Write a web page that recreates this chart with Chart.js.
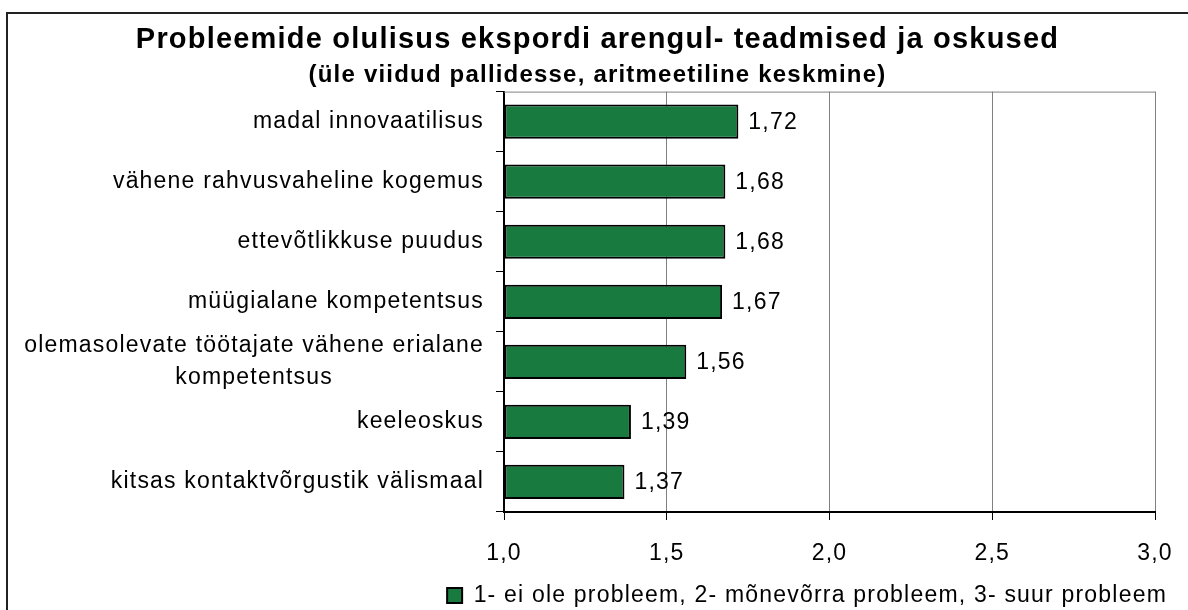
<!DOCTYPE html>
<html>
<head>
<meta charset="utf-8">
<script src="https://cdn.jsdelivr.net/npm/chart.js@4.4.1/dist/chart.umd.min.js"></script>
<style>
    html, body { margin: 0; padding: 0; background: #fff; overflow: hidden; }
    #frame { position: absolute; left: 6px; top: 12px; width: 1300px; height: 700px; border: 2px solid #222; }
    #wrap { position: absolute; left: 0; top: 0; width: 1188px; height: 610px; }
</style>
</head>
<body>
<div id="frame"></div>
<div id="wrap"><canvas id="chart"></canvas></div>
<script>
const titleText = 'Probleemide olulisus ekspordi arengul- teadmised ja oskused';
const subtitleText = '(üle viidud pallidesse, aritmeetiline keskmine)';
const seriesLabel = '1- ei ole probleem, 2- mõnevõrra probleem, 3- suur probleem';

const categories = [
    'madal innovaatilisus',
    'vähene rahvusvaheline kogemus',
    'ettevõtlikkuse puudus',
    'müügialane kompetentsus',
    ['olemasolevate töötajate vähene erialane', 'kompetentsus'],
    'keeleoskus',
    'kitsas kontaktvõrgustik välismaal'
];
const values = [1.72, 1.68, 1.68, 1.67, 1.56, 1.39, 1.37];
const xMin = 1.0;
const xMax = 3.0;
const xStep = 0.5;

const FONT = "'Liberation Sans', Arial, sans-serif";
const SPACING = '1.2px';
const PAD_L = 28;
const PAD_R = 21;
const fmt = (v, d) => v.toFixed(d).replace('.', ',');

// old Excel text is a bit wider than plain Arial
const spacingPlugin = {
    id: 'spacing',
    beforeLayout(chart) { chart.ctx.letterSpacing = SPACING; },
    beforeDraw(chart) { chart.ctx.letterSpacing = SPACING; }
};

// category labels + value labels + top frame of the plot
const decorPlugin = {
    id: 'decor',
    afterDraw(chart) {
        const ctx = chart.ctx;
        const area = chart.chartArea;
        const yScale = chart.scales.y;
        const meta = chart.getDatasetMeta(0);

        ctx.save();
        ctx.strokeStyle = '#808080';
        ctx.lineWidth = 1;
        ctx.beginPath();
        ctx.moveTo(area.left, area.top + 0.5);
        ctx.lineTo(area.right + 0.5, area.top + 0.5);
        ctx.stroke();

        ctx.fillStyle = '#000';
        ctx.font = '23px ' + FONT;
        ctx.textBaseline = 'middle';
        ctx.textAlign = 'center';
        const lineH = 32;
        categories.forEach((label, i) => {
            const lines = Array.isArray(label) ? label : [label];
            const maxW = Math.max(...lines.map(l => ctx.measureText(l).width));
            const cx = area.left - 20 - maxW / 2;
            const y0 = yScale.getPixelForTick(i) - (lines.length - 1) * lineH / 2;
            lines.forEach((l, j) => ctx.fillText(l, cx, y0 + j * lineH));
        });

        ctx.textAlign = 'left';
        meta.data.forEach((bar, i) => {
            ctx.fillText(fmt(values[i], 2), bar.x + 10, bar.y + 1);
        });
        ctx.restore();
    }
};

new Chart(document.getElementById('chart'), {
    type: 'bar',
    data: {
        labels: categories,
        datasets: [{
            label: seriesLabel,
            data: values,
            base: xMin,
            backgroundColor: '#187a3f',
            borderColor: '#000',
            borderWidth: 2,
            borderSkipped: false,
            categoryPercentage: 1,
            barPercentage: 0.57
        }]
    },
    options: {
        indexAxis: 'y',
        responsive: true,
        maintainAspectRatio: false,
        animation: false,
        layout: { padding: { left: PAD_L, right: PAD_R, top: 0, bottom: -7 } },
        scales: {
            x: {
                min: xMin,
                max: xMax,
                ticks: {
                    stepSize: xStep,
                    color: '#000',
                    padding: 20,
                    font: { family: FONT, size: 23 },
                    callback: v => fmt(v, 1)
                },
                grid: { color: '#808080', tickColor: '#000', tickLength: 8, lineWidth: 1 },
                border: { color: '#000', width: 2 },
                afterFit: scale => {
                    scale.height = 72;
                    scale.paddingLeft = 0;
                    scale.paddingRight = 0;
                }
            },
            y: {
                ticks: { display: false },
                grid: { drawOnChartArea: false, tickColor: '#000', tickLength: 8 },
                border: { color: '#000', width: 2 },
                afterFit: scale => { scale.width = 504 - PAD_L; }
            },
            // empty strip right of the plot, keeps room for the legend end
            y2: {
                type: 'linear',
                position: 'right',
                ticks: { display: false },
                grid: { display: false },
                border: { display: false },
                afterFit: scale => { scale.width = 1188 - PAD_R - 1155; }
            }
        },
        plugins: {
            title: {
                display: true,
                text: titleText,
                color: '#000',
                font: { family: FONT, size: 29, weight: 'bold' },
                padding: { top: 23, bottom: 0 }
            },
            subtitle: {
                display: true,
                text: subtitleText,
                color: '#000',
                font: { family: FONT, size: 24, weight: 'bold' },
                padding: { top: 3, bottom: 2 }
            },
            legend: {
                position: 'bottom',
                align: 'end',
                labels: {
                    color: '#000',
                    boxWidth: 15,
                    boxHeight: 15,
                    padding: 0,
                    font: { family: FONT, size: 23 }
                }
            },
            tooltip: { enabled: false }
        }
    },
    plugins: [spacingPlugin, decorPlugin]
});
</script>
</body>
</html>
